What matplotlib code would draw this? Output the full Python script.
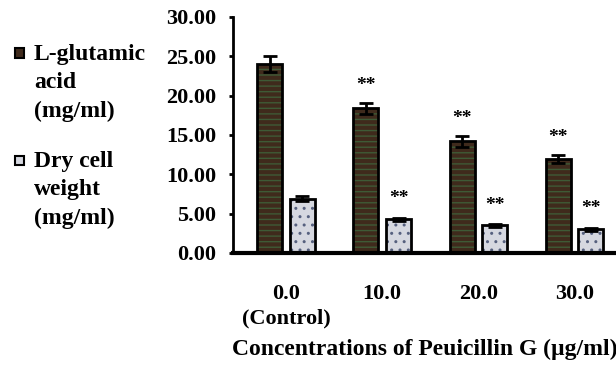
import matplotlib
matplotlib.use("Agg")
import matplotlib.pyplot as plt
from matplotlib.patches import Rectangle
import numpy as np

plt.rcParams['font.family'] = ['Liberation Serif', 'DejaVu Serif']
plt.rcParams['font.weight'] = 'bold'

categories = ["0.0\n(Control)", "10.0", "20.0", "30.0"]
glutamic = [24.0, 18.4, 14.2, 12.0]
glutamic_err = [1.0, 0.7, 0.7, 0.5]
dry_cell = [6.9, 4.3, 3.5, 3.0]
dry_cell_err = [0.3, 0.2, 0.2, 0.2]
glutamic_sig = ["", "**", "**", "**"]
dry_cell_sig = ["", "**", "**", "**"]
yticks = [0, 5, 10, 15, 20, 25, 30]
legend_labels = ["L-glutamic\nacid\n(mg/ml)", "Dry cell\nweight\n(mg/ml)"]
xlabel = "Concentrations of Peuicillin G (\u00b5g/ml)"

W, H = 616, 366
fig = plt.figure(figsize=(W / 100, H / 100), dpi=100)
ax = fig.add_axes([233 / W, 113 / H, (W - 233) / W, (253 - 17) / H])
ax.set_facecolor('none')

x = np.arange(len(categories))
bw = 0.26
off = 0.17

# fills with texture
ax.bar(x - off, glutamic, bw, color='#3f2a1c', hatch='---', edgecolor='#3e5a36', linewidth=0, zorder=2)
ax.bar(x + off, dry_cell, bw, color='#d6d8e0', hatch='..', edgecolor='#56607e', linewidth=0, zorder=2)
# outlines
ax.bar(x - off, glutamic, bw, fill=False, edgecolor='black', linewidth=2, zorder=3)
ax.bar(x + off, dry_cell, bw, fill=False, edgecolor='black', linewidth=2, zorder=3)

ax.errorbar(x - off, glutamic, yerr=glutamic_err, fmt='none', ecolor='black',
            elinewidth=2, capsize=5, capthick=2, zorder=4)
ax.errorbar(x + off, dry_cell, yerr=dry_cell_err, fmt='none', ecolor='black',
            elinewidth=2, capsize=5, capthick=2, zorder=4)

for xi, v, e, s in zip(x - off, glutamic, glutamic_err, glutamic_sig):
    if s:
        ax.text(xi, v + e + 2.2, s, ha='center', va='center', fontsize=14, fontweight='bold')
for xi, v, e, s in zip(x + off, dry_cell, dry_cell_err, dry_cell_sig):
    if s:
        ax.text(xi, v + e + 2.4, s, ha='center', va='center', fontsize=14, fontweight='bold')

ax.set_xlim(-0.55, 3.43)
ax.set_ylim(0, 30)
ax.set_yticks(yticks)
ax.set_yticklabels([f"{v:.2f}" for v in yticks], fontsize=16, fontweight='bold')
ax.set_xticks(x)
ax.set_xticklabels(categories, fontsize=16, fontweight='bold', linespacing=1.3)
ax.tick_params(axis='x', length=0, pad=22)
ax.tick_params(axis='y', length=3, width=2, pad=9, direction='out')

for side in ['top', 'right']:
    ax.spines[side].set_visible(False)
ax.spines['left'].set_linewidth(2)
ax.spines['bottom'].set_linewidth(3)

# manual legend
leg_y = [53, 160]
leg_face = ['#3f2a1c', '#d6d8e0']
for yy, lab, fc in zip(leg_y, legend_labels, leg_face):
    fig.patches.append(Rectangle((15 / W, 1 - (yy + 4.5) / H), 9 / W, 9 / H,
                                 transform=fig.transFigure, facecolor=fc,
                                 edgecolor='black', linewidth=1.5))
    fig.text(34 / W, 1 - (yy - 9) / H, lab, ha='left', va='top', fontsize=17,
             fontweight='bold', linespacing=1.45)

fig.text(232 / W, 1 - 349 / H, xlabel, ha='left', va='center', fontsize=17, fontweight='bold')

fig.savefig('out.png', dpi=100)
